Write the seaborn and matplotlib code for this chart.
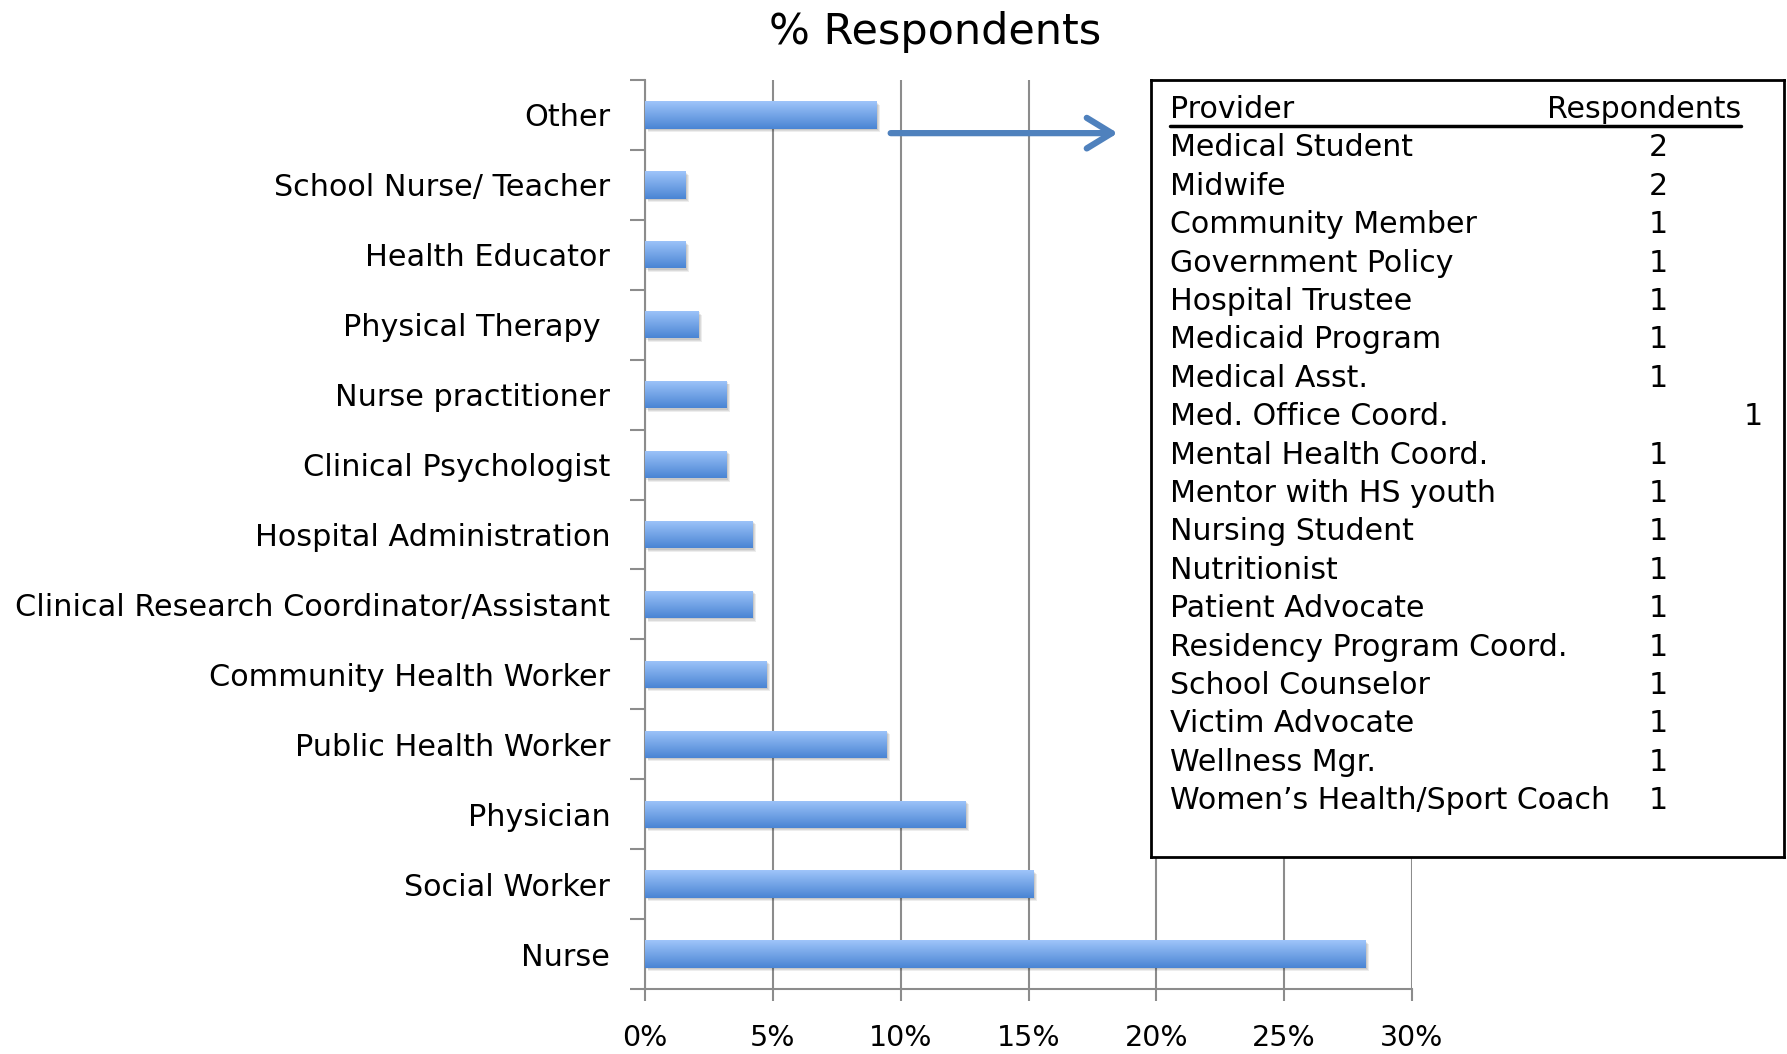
import matplotlib
matplotlib.use("Agg")
import matplotlib.pyplot as plt
import matplotlib.patheffects as pe
import numpy as np
import pandas as pd
import seaborn as sns
from matplotlib.lines import Line2D
from matplotlib.ticker import FuncFormatter

CATEGORIES = [
    "Other",
    "School Nurse/ Teacher",
    "Health Educator",
    "Physical Therapy ",
    "Nurse practitioner",
    "Clinical Psychologist",
    "Hospital Administration",
    "Clinical Research Coordinator/Assistant",
    "Community Health Worker",
    "Public Health Worker",
    "Physician",
    "Social Worker",
    "Nurse",
]
PERCENT = [9.05, 1.6, 1.6, 2.1, 3.2, 3.2, 4.2, 4.2, 4.75, 9.45, 12.55, 15.2, 28.2]

PROVIDERS = [
    "Medical Student", "Midwife", "Community Member", "Government Policy",
    "Hospital Trustee", "Medicaid Program", "Medical Asst.", "Med. Office Coord.",
    "Mental Health Coord.", "Mentor with HS youth", "Nursing Student",
    "Nutritionist", "Patient Advocate", "Residency Program Coord.",
    "School Counselor", "Victim Advocate", "Wellness Mgr.",
    "Women\u2019s Health/Sport Coach",
]
COUNTS = [2, 2, 1, 1, 1, 1, 1, 1, 1, 1, 1, 1, 1, 1, 1, 1, 1, 1]

XTICKS = [0, 5, 10, 15, 20, 25, 30]

W, H, DPI = 1787, 1054, 100
GRAY = "#8c8c8c"
TOP_BLUE = np.array([0.62, 0.77, 0.98])
BOT_BLUE = np.array([0.29, 0.52, 0.83])


def fx(px):
    return px / W


def fy(py):
    return 1 - py / H


sns.set_theme(style="white")
plt.rcParams["font.family"] = ["DejaVu Sans"]
plt.rcParams["text.color"] = "black"

fig = plt.figure(figsize=(W / DPI, H / DPI), dpi=DPI)
ax = fig.add_axes([fx(645), fy(989), (1412 - 645) / W, (989 - 80) / H])

df = pd.DataFrame({"category": CATEGORIES, "pct": PERCENT})
sns.barplot(data=df, x="pct", y="category", orient="h", color=BOT_BLUE,
            width=0.39, ax=ax, zorder=2)

# vertical gradient fill + soft shadow, like the original Excel bars
grad = np.linspace(0, 1, 64)[:, None, None]
img = TOP_BLUE * (1 - grad) + BOT_BLUE * grad
for patch in ax.patches:
    x0, y0 = patch.get_x(), patch.get_y()
    w, h = patch.get_width(), patch.get_height()
    patch.set_edgecolor("none")
    patch.set_path_effects([
        pe.SimplePatchShadow(offset=(2.5, -2.5), shadow_rgbFace="black", alpha=0.07),
        pe.SimplePatchShadow(offset=(1.8, -1.8), shadow_rgbFace="black", alpha=0.08),
        pe.SimplePatchShadow(offset=(1.0, -1.0), shadow_rgbFace="black", alpha=0.08),
        pe.Normal(),
    ])
    im = ax.imshow(img, extent=(x0, x0 + w, y0 + h, y0), origin="upper",
                   aspect="auto", zorder=3, interpolation="bilinear")
    im.set_clip_path(patch)

ax.set_xlim(0, 30)
ax.set_ylim(len(CATEGORIES) - 0.5, -0.5)
ax.set_xticks(XTICKS)
ax.xaxis.set_major_formatter(FuncFormatter(lambda v, _: f"{v:.0f}%"))
ax.set_yticks(np.arange(-0.5, len(CATEGORIES), 1), minor=True)
ax.set_xlabel("")
ax.set_ylabel("")
ax.xaxis.grid(True, color=GRAY, linewidth=1.5, zorder=0)
ax.set_axisbelow(True)
for side in ("top", "right"):
    ax.spines[side].set_visible(False)
for side in ("left", "bottom"):
    ax.spines[side].set_color(GRAY)
    ax.spines[side].set_linewidth(1.5)
ax.tick_params(axis="y", which="major", length=0, pad=25, labelsize=21.8, labelcolor="black")
ax.tick_params(axis="y", which="minor", length=11, width=1.5, color=GRAY, left=True)
ax.tick_params(axis="x", which="major", length=8.5, width=1.5, color=GRAY, bottom=True,
               pad=17, labelsize=20.5, labelcolor="black")

fig.text(fx(935), fy(32), "% Respondents", ha="center", va="center", fontsize=31)

ax.annotate("", xy=(18.6, 0.26), xytext=(9.5, 0.26), xycoords="data",
            arrowprops=dict(arrowstyle="->,head_length=0.9,head_width=0.55",
                            color="#4f81bd", lw=4.5, mutation_scale=20),
            annotation_clip=False, zorder=5)

# inset listing the "Other" providers
tbl = fig.add_axes([fx(1151), fy(857), (1784 - 1151) / W, (857 - 80) / H], zorder=4)
tbl.set_facecolor("white")
tbl.set_xticks([])
tbl.set_yticks([])
for s in tbl.spines.values():
    s.set_color("black")
    s.set_linewidth(2)
    s.set_visible(True)

FS = 21.6
tbl.text(fx(1170), fy(109), "Provider", transform=fig.transFigure,
         ha="left", va="center", fontsize=FS)
tbl.text(fx(1741), fy(109), "Respondents", transform=fig.transFigure,
         ha="right", va="center", fontsize=FS)
tbl.add_line(Line2D([fx(1170), fx(1741)], [fy(126), fy(126)],
                    transform=fig.transFigure, color="black", lw=2.5))
for i, (name, n) in enumerate(zip(PROVIDERS, COUNTS)):
    y = fy(148 + i * 38.4)
    tbl.text(fx(1170), y, name, transform=fig.transFigure,
             ha="left", va="center", fontsize=FS)
    nx = 1753 if name == "Med. Office Coord." else 1658
    tbl.text(fx(nx), y, str(n), transform=fig.transFigure,
             ha="center", va="center", fontsize=FS)

fig.savefig("out.png", dpi=DPI)
